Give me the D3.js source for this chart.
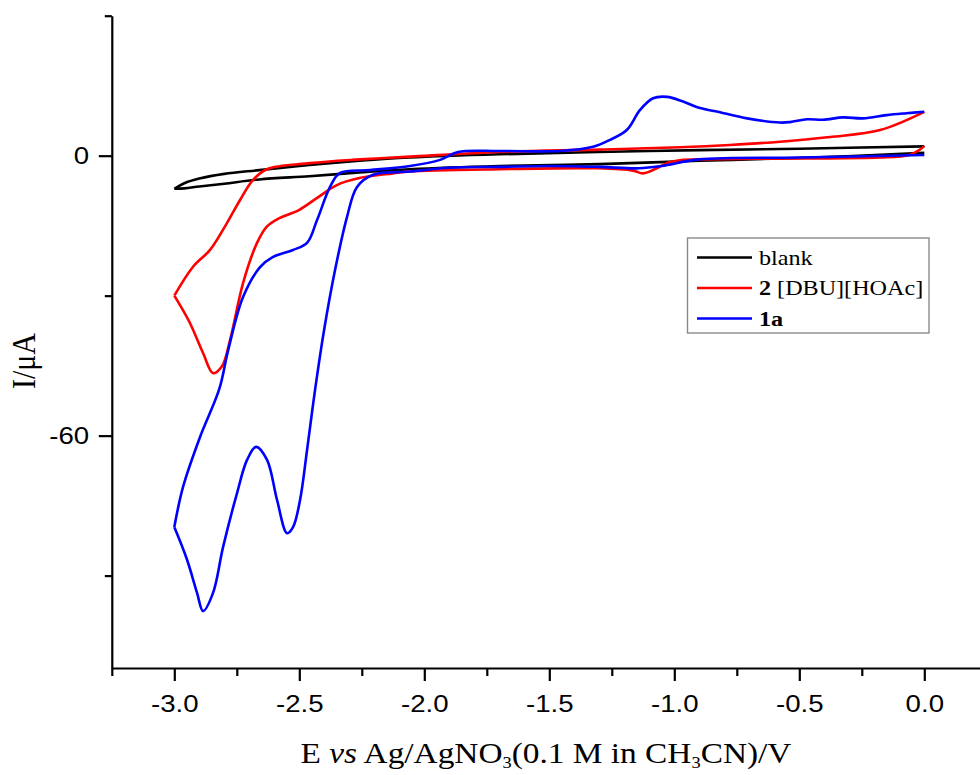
<!DOCTYPE html>
<html>
<head>
<meta charset="utf-8">
<script src="https://cdn.jsdelivr.net/npm/d3@7"></script>
<style>
  html, body { margin: 0; padding: 0; background: #ffffff; }
  svg { display: block; }
</style>
</head>
<body>
<svg id="chart" width="980" height="775"></svg>
<script>
// Cyclic voltammograms: potential E (V vs Ag/AgNO3) and current I (µA)

// blank electrolyte
const blankE = [0.00, -0.50, -1.10, -1.70, -2.06, -2.26, -2.46, -2.66, -2.80, -2.90, -2.96, -3.00,
                -2.96, -2.90, -2.80, -2.66, -2.46, -2.26, -2.06, -1.70, -1.30, -0.90, -0.50, 0.00];
const blankI = [2.0, 1.5, 1.0, 0.3, -0.4, -1.1, -2.0, -3.1, -3.9, -4.9, -5.9, -7.1,
                -7.0, -6.6, -6.0, -5.1, -4.4, -3.6, -2.9, -2.2, -1.8, -1.1, -0.5, 0.6];

// 2 [DBU][HOAc]
const dbuE = [0.00, -0.02, -0.06, -0.18, -0.50, -0.90, -0.965, -1.03, -1.07, -1.125, -1.165, -1.30,
              -1.70, -2.06, -2.125, -2.26, -2.35, -2.43, -2.50, -2.58, -2.63, -2.67, -2.725, -2.777,
              -2.81, -2.845, -2.885, -2.94, -3.00, -2.925, -2.857, -2.79, -2.737, -2.685, -2.63,
              -2.457, -2.257, -2.057, -1.70, -1.30, -0.977, -0.777, -0.577, -0.377, -0.177, 0.00];
const dbuI = [2.1, 1.2, 0.15, -0.4, -0.6, -0.8, -0.9, -1.6, -2.7, -3.8, -3.2, -2.7,
              -2.9, -3.4, -3.8, -4.8, -6.3, -9.1, -11.6, -13.4, -15.2, -18.8, -27.3, -39.5,
              -45.2, -46.6, -42.3, -35.6, -30.0, -23.8, -20.2, -14.5, -9.5, -5.2, -2.9,
              -1.6, -0.8, -0.2, 0.8, 1.3, 1.8, 2.3, 3.0, 4.0, 5.5, 9.4];

// 1a
const cmpE = [0.00, -0.50, -0.90, -1.05, -1.14, -1.30, -1.50, -1.70, -1.90, -2.057, -2.205, -2.269,
              -2.309, -2.357, -2.401, -2.437, -2.469, -2.497, -2.525, -2.549, -2.589, -2.629, -2.673,
              -2.709, -2.749, -2.805, -2.845, -2.885, -2.909, -2.949, -3.00, -2.965, -2.897, -2.82,
              -2.785, -2.725, -2.657, -2.605, -2.525, -2.469, -2.429, -2.377, -2.337, -2.217, -2.057,
              -1.937, -1.865, -1.697, -1.457, -1.325, -1.257, -1.19, -1.137, -1.085, -1.029, -0.965,
              -0.897, -0.817, -0.709, -0.577, -0.537, -0.469, -0.405, -0.325, -0.245, -0.151, -0.071, 0.00];
const cmpI = [0.15, -0.4, -0.8, -2.2, -2.7, -2.4, -2.2, -2.4, -2.6, -3.4, -4.1, -6.7,
              -13.1, -24.5, -37.4, -50.2, -63.1, -73.8, -79.6, -80.9, -73.8, -65.2, -62.4,
              -65.2, -72.3, -83.9, -93.7, -97.6, -93.7, -86.6, -79.6, -71.0, -60.3, -50.0,
              -41.8, -30.3, -23.9, -21.7, -20.2, -18.7, -13.8, -6.7, -3.7, -3.1, -2.2,
              -0.9, 0.8, 1.0, 1.0, 1.9, 3.4, 5.5, 9.8, 12.3, 12.6, 11.6,
              10.2, 9.3, 8.0, 7.1, 7.2, 7.8, 7.7, 8.2, 8.0, 8.7, 9.1, 9.4];

const seriesE = [blankE, dbuE, cmpE];
const seriesI = [blankI, dbuI, cmpI];
const seriesColors = ["#000000", "#ff0000", "#0000ff"];
const legendBold = ["", "2", "1a"];
const legendRest = ["blank", " [DBU][HOAc]", ""];

const xMajorTicks = [-3.0, -2.5, -2.0, -1.5, -1.0, -0.5, 0.0];
const xMinorTicks = [-3.25, -2.75, -2.25, -1.75, -1.25, -0.75, -0.25, 0.25];
const yMajorTicks = [0, -60];
const yMinorTicks = [30, -30, -90];

const svg = d3.select("#chart");
const SANS = "'Liberation Sans', Arial, sans-serif";
const SERIF = "'Liberation Serif', 'Times New Roman', serif";
const STRETCH = "scale(1.15,1)";

const x = d3.scaleLinear().domain([-3.25, 0.25]).range([111.8, 986.8]);
const y = d3.scaleLinear().domain([-109.8, 30]).range([668, 15.7]);

// curves: each sweep is smoothed on its own so the switching vertex stays sharp
const line = d3.line()
  .x(d => x(d[0]))
  .y(d => y(d[1]))
  .curve(d3.curveCatmullRom.alpha(0.5));

const plot = svg.append("g");
seriesE.forEach((es, k) => {
  const pts = es.map((e, i) => [e, seriesI[k][i]]);
  const turn = d3.minIndex(es);
  const forward = pts.slice(0, turn + 1);
  const reverse = pts.slice(turn);
  plot.append("path")
    .attr("d", line(forward) + line(reverse))
    .attr("fill", "none")
    .attr("stroke", seriesColors[k])
    .attr("stroke-width", 2.6)
    .attr("stroke-linejoin", "round");
});

// axes
function styleAxis(g) {
  g.selectAll("path.domain").attr("stroke", "#000").attr("stroke-width", 2.2);
  g.selectAll(".tick line").attr("stroke", "#000").attr("stroke-width", 2.2);
}

const xMinor = svg.append("g").attr("transform", `translate(0,${y.range()[0]})`)
  .call(d3.axisBottom(x).tickValues(xMinorTicks).tickSize(8).tickSizeOuter(0).tickFormat(""));
xMinor.select("path.domain").remove();
styleAxis(xMinor);

const xAxis = svg.append("g").attr("transform", `translate(0,${y.range()[0]})`)
  .call(d3.axisBottom(x).tickValues(xMajorTicks).tickSize(13).tickSizeOuter(0));
styleAxis(xAxis);
xAxis.selectAll("text")
  .attr("y", 27)
  .attr("fill", "#000")
  .style("font-family", SANS)
  .style("font-size", "24px")
  .attr("transform", STRETCH)
  .text(d => d3.format(".1f")(d).replace("−", "-"));

const yMinor = svg.append("g").attr("transform", `translate(${x.range()[0]},0)`)
  .call(d3.axisLeft(y).tickValues(yMinorTicks).tickSize(7).tickSizeOuter(0).tickFormat(""));
yMinor.select("path.domain").remove();
styleAxis(yMinor);

const yAxis = svg.append("g").attr("transform", `translate(${x.range()[0]},0)`)
  .call(d3.axisLeft(y).tickValues(yMajorTicks).tickSize(13).tickSizeOuter(0));
styleAxis(yAxis);
yAxis.selectAll("text")
  .attr("x", -19.7)
  .attr("fill", "#000")
  .style("font-family", SANS)
  .style("font-size", "24px")
  .attr("transform", STRETCH)
  .text(d => String(d).replace("−", "-"));

// axis titles
const xTitle = svg.append("text")
  .attr("transform", `translate(546,763) ${STRETCH}`)
  .attr("text-anchor", "middle")
  .style("font-family", SERIF)
  .style("font-size", "29px")
  .attr("fill", "#000");
xTitle.append("tspan").text("E ");
xTitle.append("tspan").style("font-style", "italic").text("vs");
xTitle.append("tspan").text(" Ag/AgNO");
xTitle.append("tspan").attr("dy", 5).style("font-size", "16px").text("3");
xTitle.append("tspan").attr("dy", -5).text("(0.1 M in CH");
xTitle.append("tspan").attr("dy", 5).style("font-size", "16px").text("3");
xTitle.append("tspan").attr("dy", -5).text("CN)/V");

svg.append("text")
  .attr("transform", `translate(35,361) ${STRETCH} rotate(-90)`)
  .attr("text-anchor", "middle")
  .style("font-family", SERIF)
  .style("font-size", "30px")
  .attr("fill", "#000")
  .text("I/μA");

// legend
const legend = svg.append("g");
legend.append("rect")
  .attr("x", 687.5).attr("y", 238)
  .attr("width", 241.5).attr("height", 95)
  .attr("fill", "#fff")
  .attr("stroke", "#8a8a8a")
  .attr("stroke-width", 1.4);

const rowLine = [257.5, 288, 318.5];
const rowBase = [264.5, 295, 325.5];
seriesColors.forEach((c, k) => {
  legend.append("line")
    .attr("x1", 697).attr("x2", 752)
    .attr("y1", rowLine[k]).attr("y2", rowLine[k])
    .attr("stroke", c).attr("stroke-width", 2.6);
  const t = legend.append("text")
    .attr("transform", `translate(759,${rowBase[k]}) ${STRETCH}`)
    .style("font-family", SERIF)
    .style("font-size", "21px")
    .style("white-space", "pre")
    .attr("fill", "#000");
  if (legendBold[k]) t.append("tspan").style("font-weight", "bold").text(legendBold[k]);
  if (legendRest[k]) t.append("tspan").text(legendRest[k]);
});
</script>
</body>
</html>
